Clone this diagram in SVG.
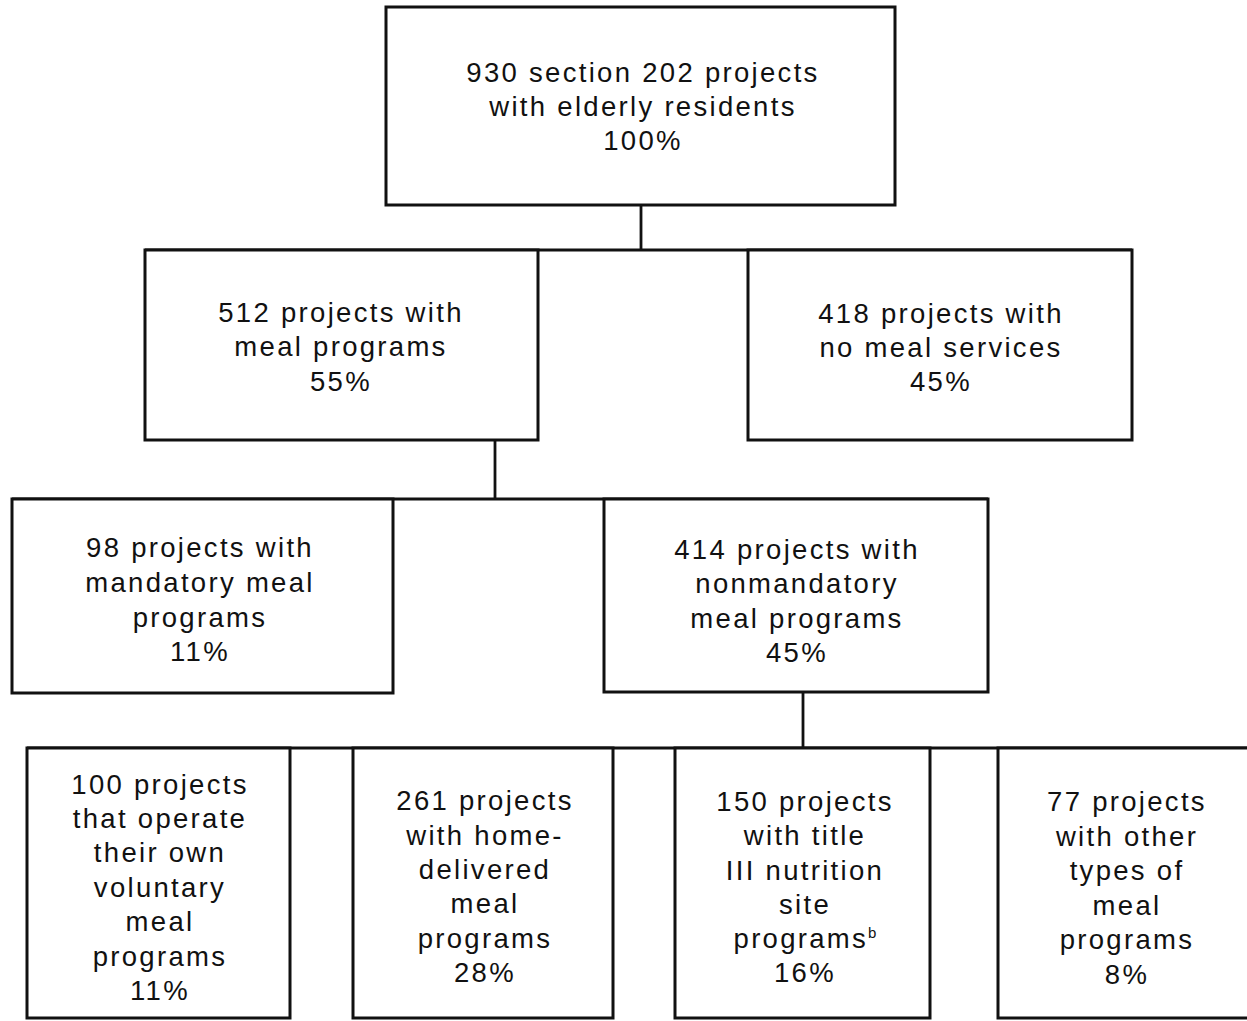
<svg xmlns="http://www.w3.org/2000/svg" width="1247" height="1021" viewBox="0 0 1247 1021">
<style>
.box{fill:#fff;stroke:#111;stroke-width:3}
.lbl{font-family:"Liberation Sans",Arial,sans-serif;font-size:27.5px;letter-spacing:2.3px;fill:#111;text-anchor:middle}
.con{stroke:#111;stroke-width:2.8;fill:none}
.sup{font-size:15px;letter-spacing:0}
</style>
<rect width="1247" height="1021" fill="#fff"/>
<g id="connectors">
<line class="con" x1="641" y1="205" x2="641" y2="250"/>
<line class="con" x1="145" y1="250" x2="1132" y2="250"/>
<line class="con" x1="495" y1="440" x2="495" y2="499"/>
<line class="con" x1="12" y1="499" x2="988" y2="499"/>
<line class="con" x1="803" y1="692" x2="803" y2="748"/>
<line class="con" x1="27" y1="748" x2="1247" y2="748"/>
</g>
<g id="n930">
<rect class="box" x="386" y="7" width="509" height="198"/>
<text class="lbl"><tspan x="643" y="82">930 section 202 projects</tspan><tspan x="643" y="116">with elderly residents</tspan><tspan x="643" y="150">100%</tspan></text>
</g>
<g id="n512">
<rect class="box" x="145" y="250" width="393" height="190"/>
<text class="lbl"><tspan x="341" y="322">512 projects with</tspan><tspan x="341" y="356">meal programs</tspan><tspan x="341" y="391">55%</tspan></text>
</g>
<g id="n418">
<rect class="box" x="748" y="250" width="384" height="190"/>
<text class="lbl"><tspan x="941" y="323">418 projects with</tspan><tspan x="941" y="357">no meal services</tspan><tspan x="941" y="391">45%</tspan></text>
</g>
<g id="n98">
<rect class="box" x="12" y="499" width="381" height="194"/>
<text class="lbl"><tspan x="200" y="557">98 projects with</tspan><tspan x="200" y="592">mandatory meal</tspan><tspan x="200" y="627">programs</tspan><tspan x="200" y="661">11%</tspan></text>
</g>
<g id="n414">
<rect class="box" x="604" y="499" width="384" height="193"/>
<text class="lbl"><tspan x="797" y="559">414 projects with</tspan><tspan x="797" y="593">nonmandatory</tspan><tspan x="797" y="628">meal programs</tspan><tspan x="797" y="662">45%</tspan></text>
</g>
<g id="n100">
<rect class="box" x="27" y="748" width="263" height="270"/>
<text class="lbl"><tspan x="160" y="794">100 projects</tspan><tspan x="160" y="828">that operate</tspan><tspan x="160" y="862">their own</tspan><tspan x="160" y="897">voluntary</tspan><tspan x="160" y="931">meal</tspan><tspan x="160" y="966">programs</tspan><tspan x="160" y="1000">11%</tspan></text>
</g>
<g id="n261">
<rect class="box" x="353" y="748" width="260" height="270"/>
<text class="lbl"><tspan x="485" y="810">261 projects</tspan><tspan x="485" y="845">with home-</tspan><tspan x="485" y="879">delivered</tspan><tspan x="485" y="913">meal</tspan><tspan x="485" y="948">programs</tspan><tspan x="485" y="982">28%</tspan></text>
</g>
<g id="n150">
<rect class="box" x="675" y="748" width="255" height="270"/>
<text class="lbl"><tspan x="805" y="811">150 projects</tspan><tspan x="805" y="845">with title</tspan><tspan x="805" y="880">III nutrition</tspan><tspan x="805" y="914">site</tspan><tspan x="805" y="948">programs<tspan class="sup" dy="-10">b</tspan></tspan><tspan x="805" y="982">16%</tspan></text>
</g>
<g id="n77">
<rect class="box" x="998" y="748" width="260" height="270"/>
<text class="lbl"><tspan x="1127" y="811">77 projects</tspan><tspan x="1127" y="846">with other</tspan><tspan x="1127" y="880">types of</tspan><tspan x="1127" y="915">meal</tspan><tspan x="1127" y="949">programs</tspan><tspan x="1127" y="984">8%</tspan></text>
</g>
</svg>
